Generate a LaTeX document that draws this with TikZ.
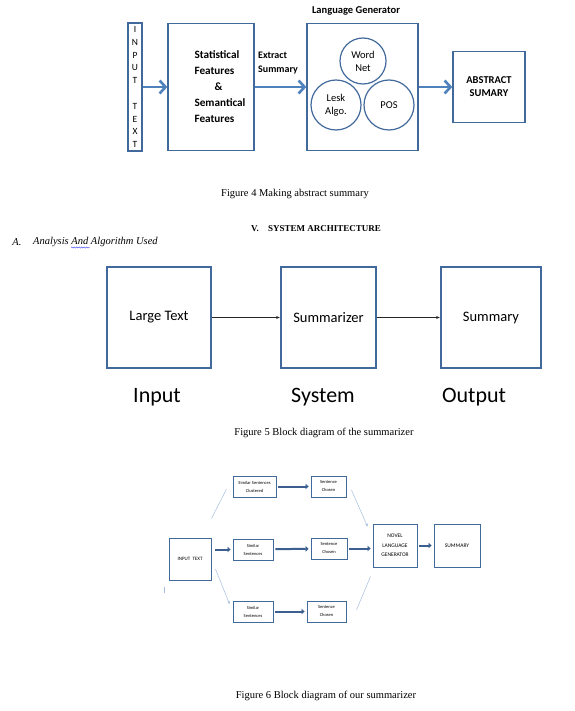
\documentclass[tikz,border=0pt]{standalone}
\usepackage{fontspec}
\setmainfont{Liberation Serif}
\setsansfont{Carlito}
\usetikzlibrary{arrows.meta,decorations.pathmorphing,positioning}
\definecolor{boxblue}{RGB}{65,105,155}
\definecolor{arrblue}{RGB}{79,129,189}
\definecolor{darkarr}{RGB}{60,95,145}
\definecolor{paleblue}{RGB}{165,190,222}
\tikzset{
  bigbox/.style={draw=boxblue,line width=1.3,inner sep=0},
  smallbox/.style={draw=boxblue,line width=0.9,inner sep=0,align=center,font=\sffamily\fontsize{4.5}{8}\selectfont},
  wordcircle/.style={circle,draw=boxblue,line width=1.2,inner sep=0,align=center,font=\sffamily\fontsize{10.5}{13}\selectfont},
  boldlabel/.style={font=\sffamily\bfseries\fontsize{11.2}{16}\selectfont,inner sep=0},
  fatarrow/.style={arrblue,line width=2.6,-{Straight Barb[length=6pt,width=13pt]}},
  thinarrow/.style={black!85,line width=1,-{Latex[length=4pt,width=3pt]}},
  midarrow/.style={darkarr,line width=2,-{Triangle[length=3pt,width=5.5pt]},shorten <=2pt,shorten >=2pt},
  faintlink/.style={paleblue,line width=0.5},
  faintarrow/.style={faintlink,-{Stealth[length=3pt,width=2.5pt]}}
}
\begin{document}
\begin{tikzpicture}[x=1pt,y=-1pt]
  \useasboundingbox (0,0) rectangle (574,711);

  \node[bigbox,minimum width=14,minimum height=128,align=center,font=\sffamily\fontsize{9.5}{12.8}\selectfont] (inp) at (135,87) {I\\N\\P\\U\\T\\[12.8pt]T\\E\\X\\T};
  \node[bigbox,minimum width=86,minimum height=127] (feat) at (211,87) {};
  \node[boldlabel,align=left] (featTxt) at (220,87) {Statistical\\Features\\\hspace*{20pt}\&\\Semantical\\Features};
  \node[boldlabel,align=left,anchor=west,font=\sffamily\bfseries\fontsize{10}{14}\selectfont] (extract) at (258,63) {Extract\\Summary};
  \node[bigbox,minimum width=111,minimum height=127] (gen) at (362.5,87) {};
  \node[boldlabel,font=\sffamily\bfseries\fontsize{10.5}{13}\selectfont] (genTitle) at (356,11) {Language Generator};
  \node[wordcircle,minimum size=46] (wordnet) at (363,61) {Word\\Net};
  \node[wordcircle,minimum size=50] (lesk) at (336,105) {Lesk\\Algo.};
  \node[wordcircle,minimum size=50] (pos) at (389,105) {POS};
  \node[bigbox,boldlabel,minimum width=72,minimum height=71,align=center,font=\sffamily\bfseries\fontsize{10.5}{13}\selectfont] (abs) at (489,87) {ABSTRACT\\SUMARY};
  \draw[fatarrow] (inp) -- (feat);
  \draw[fatarrow] (feat) -- (gen);
  \draw[fatarrow] (gen) -- (abs);

  \node[font=\fontsize{10.5}{12}\selectfont] (capFour) at (295,194) {Figure 4 Making abstract summary};
  \node[font=\bfseries\fontsize{9}{11}\selectfont] (secNum) at (255,229) {V.};
  \node[font=\bfseries\fontsize{9}{11}\selectfont] (secTitle) at (324.5,229) {SYSTEM ARCHITECTURE};
  \node[font=\itshape\fontsize{10.5}{12}\selectfont] (subNum) at (17,242) {A.};
  \node[font=\itshape\fontsize{10.5}{12}\selectfont,anchor=west,inner sep=0] (subTitle) at (33,242) {Analysis And Algorithm Used};
  \draw[blue!80,line width=0.4,decorate,decoration={snake,amplitude=0.6,segment length=2.5}] (71,247.5) -- (90,247.5);

  \node[bigbox,minimum width=104,minimum height=101,font=\sffamily\fontsize{14.5}{17}\selectfont] (large) at (159,317.5) {Large Text};
  \node[bigbox,minimum width=95,minimum height=101,font=\sffamily\fontsize{14.5}{17}\selectfont] (summarizer) at (328.5,317.5) {Summarizer};
  \node[bigbox,minimum width=100,minimum height=101,font=\sffamily\fontsize{14.5}{17}\selectfont] (summary) at (491,317.5) {Summary};
  \draw[thinarrow] (large) -- (summarizer);
  \draw[thinarrow] (summarizer) -- (summary);
  \node[font=\sffamily\fontsize{22}{26}\selectfont] (lblIn) at (157,397) {Input};
  \node[font=\sffamily\fontsize{22}{26}\selectfont] (lblSys) at (323,397) {System};
  \node[font=\sffamily\fontsize{22}{26}\selectfont] (lblOut) at (474,397) {Output};
  \node[font=\fontsize{10.5}{12}\selectfont] (capFive) at (324,433) {Figure 5 Block diagram of the summarizer};

  \node[smallbox,minimum width=42,minimum height=42,font=\sffamily\fontsize{5}{8}\selectfont] (itext) at (190,559) {INPUT\ \ TEXT};
  \node[smallbox,minimum width=43,minimum height=21] (clust) at (254.5,486.5) {Similar Sentences\\Clustered};
  \node[smallbox,minimum width=35,minimum height=21] (choseA) at (328.5,486.5) {Sentence\\Chosen};
  \node[smallbox,minimum width=40,minimum height=21] (simB) at (253,549.5) {Similar\\Sentences};
  \node[smallbox,minimum width=36,minimum height=21] (choseB) at (329,548.5) {Sentence\\Chosen};
  \node[smallbox,minimum width=40,minimum height=21] (simC) at (253,611.5) {Similar\\Sentences};
  \node[smallbox,minimum width=39,minimum height=21] (choseC) at (326.5,611.5) {Sentence\\Chosen};
  \node[smallbox,minimum width=44,minimum height=43,font=\sffamily\fontsize{5.5}{9.5}\selectfont] (novel) at (395,545.5) {NOVEL\\LANGUAGE\\GENERATOR};
  \node[smallbox,minimum width=46,minimum height=43,font=\sffamily\fontsize{5.5}{9.5}\selectfont] (final) at (457,545.5) {SUMMARY};
  \draw[midarrow] (clust) -- (choseA);
  \draw[midarrow,shorten <=4pt] (itext.east |- simB.west) -- (simB.west);
  \draw[midarrow] (simB) -- (choseB);
  \draw[midarrow] (choseB.east) -- (novel.west |- choseB.east);
  \draw[midarrow] (novel) -- (final);
  \draw[midarrow] (simC) -- (choseC);
  \draw[faintlink] ([shift={(0,-19)}]itext.north east) -- ([shift={(-6,2.5)}]clust.west);
  \draw[faintarrow] ([shift={(4,10)}]itext.east) -- ([shift={(-3,-7.5)}]simC.west);
  \draw[faintarrow] ([shift={(5,3.5)}]choseA.east) -- ([shift={(-5,3)}]novel.north west);
  \draw[faintlink] ([shift={(10,-1.5)}]choseC.east) -- ([shift={(-2,9)}]novel.south west);
  \draw[faintlink] (164,587) -- (164,593);
  \node[font=\fontsize{10.5}{12}\selectfont] (capSix) at (326,696) {Figure 6 Block diagram of our summarizer};
\end{tikzpicture}
\end{document}
